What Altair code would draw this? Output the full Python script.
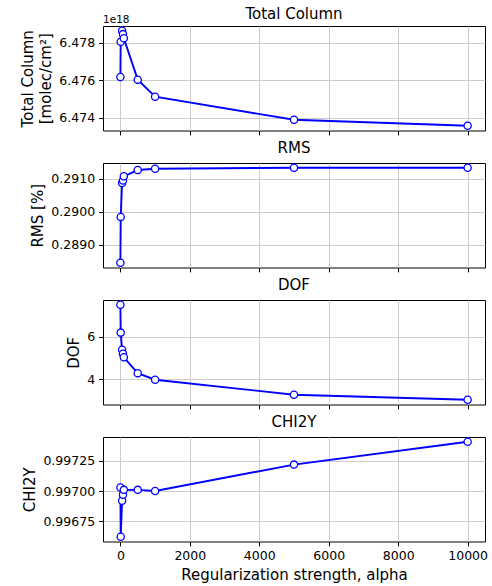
import altair as alt
import pandas as pd

# Retrieval diagnostics versus regularization strength
alpha = [1, 10, 50, 75, 100, 500, 1000, 5000, 10000]
total_column = [6.47617e18, 6.47805e18, 6.47864e18, 6.47846e18, 6.47824e18,
                6.47603e18, 6.47512e18, 6.47389e18, 6.47357e18]
rms = [0.28846, 0.28985, 0.29088, 0.29095, 0.29108, 0.29127, 0.29131, 0.29134, 0.29134]
dof = [7.52, 6.20, 5.39, 5.20, 5.03, 4.28, 3.97, 3.26, 3.02]
chi2y = [0.99703, 0.99662, 0.99692, 0.99697, 0.99701, 0.99701, 0.99700, 0.99722, 0.99741]

x_ticks = [0, 2000, 4000, 6000, 8000, 10000]

df = pd.DataFrame({
    "alpha": alpha,
    "total_column": total_column,
    "rms": rms,
    "dof": dof,
    "chi2y": chi2y,
})
# column shown in units of 1e18 (offset text drawn above the axis)
df["total_column_e18"] = df["total_column"] / 1e18

FONT = "DejaVu Sans"
W, H = 382, 104.5


def padded(values):
    lo, hi = min(values), max(values)
    pad = 0.05 * (hi - lo)
    return [lo - pad, hi + pad]


def panel(field, title, ytitle, yticks, fmt, bottom=False, offset_text=None,
          title_offset=6):
    x = alt.X(
        "alpha:Q",
        scale=alt.Scale(domain=[-500, 10500], nice=False, zero=False),
        axis=alt.Axis(
            values=x_ticks,
            labels=bottom,
            title="Regularization strength, alpha" if bottom else None,
            format="d",
        ),
    )
    y = alt.Y(
        f"{field}:Q",
        scale=alt.Scale(domain=padded(df[field].tolist()), nice=False, zero=False),
        axis=alt.Axis(values=yticks, format=fmt, title=ytitle),
    )
    base = alt.Chart(df).encode(x=x, y=y)
    line = base.mark_line(color="blue", strokeWidth=1.9)
    pts = base.mark_circle(
        fill="white", stroke="blue", strokeWidth=1.3, size=52, opacity=1
    )
    layers = [line, pts]
    if offset_text:
        txt = alt.Chart(pd.DataFrame({"t": [offset_text]})).mark_text(
            align="left", baseline="alphabetic", font=FONT, fontSize=10.5, color="black"
        ).encode(text="t:N", x=alt.value(0), y=alt.value(-3))
        layers.append(txt)
    return alt.layer(*layers).properties(
        width=W, height=H, title=alt.TitleParams(title, offset=title_offset)
    )


p1 = panel("total_column_e18", "Total Column", ["Total Column", "[molec/cm²]"],
           [6.474, 6.476, 6.478], ".3f", offset_text="1e18", title_offset=-7)
p2 = panel("rms", "RMS", "RMS [%]", [0.289, 0.290, 0.291], ".4f")
p3 = panel("dof", "DOF", "DOF", [4, 6], "d")
p4 = panel("chi2y", "CHI2Y", "CHI2Y", [0.99675, 0.997, 0.99725], ".5f", bottom=True)

chart = (
    alt.vconcat(p1, p2, p3, p4, spacing=4)
    .properties(padding={"left": 20, "top": 6, "right": 1, "bottom": 2},
                background="white")
    .configure_view(stroke="black", strokeWidth=1)
    .configure_axis(
        labelFont=FONT,
        labelFontSize=12.5,
        labelColor="black",
        titleFont=FONT,
        titleFontSize=15,
        titleFontWeight="normal",
        titleColor="black",
        titleLineHeight=18,
        titlePadding=5,
        labelPadding=4,
        domain=False,
        tickColor="black",
        tickSize=4.4,
        tickWidth=1,
        grid=True,
        gridColor="#cccccc",
        gridWidth=1,
    )
    .configure_title(font=FONT, fontSize=15, fontWeight="normal", color="black",
                     anchor="middle")
)

chart.save("out.html", embed_options={"renderer": "svg", "actions": False})
